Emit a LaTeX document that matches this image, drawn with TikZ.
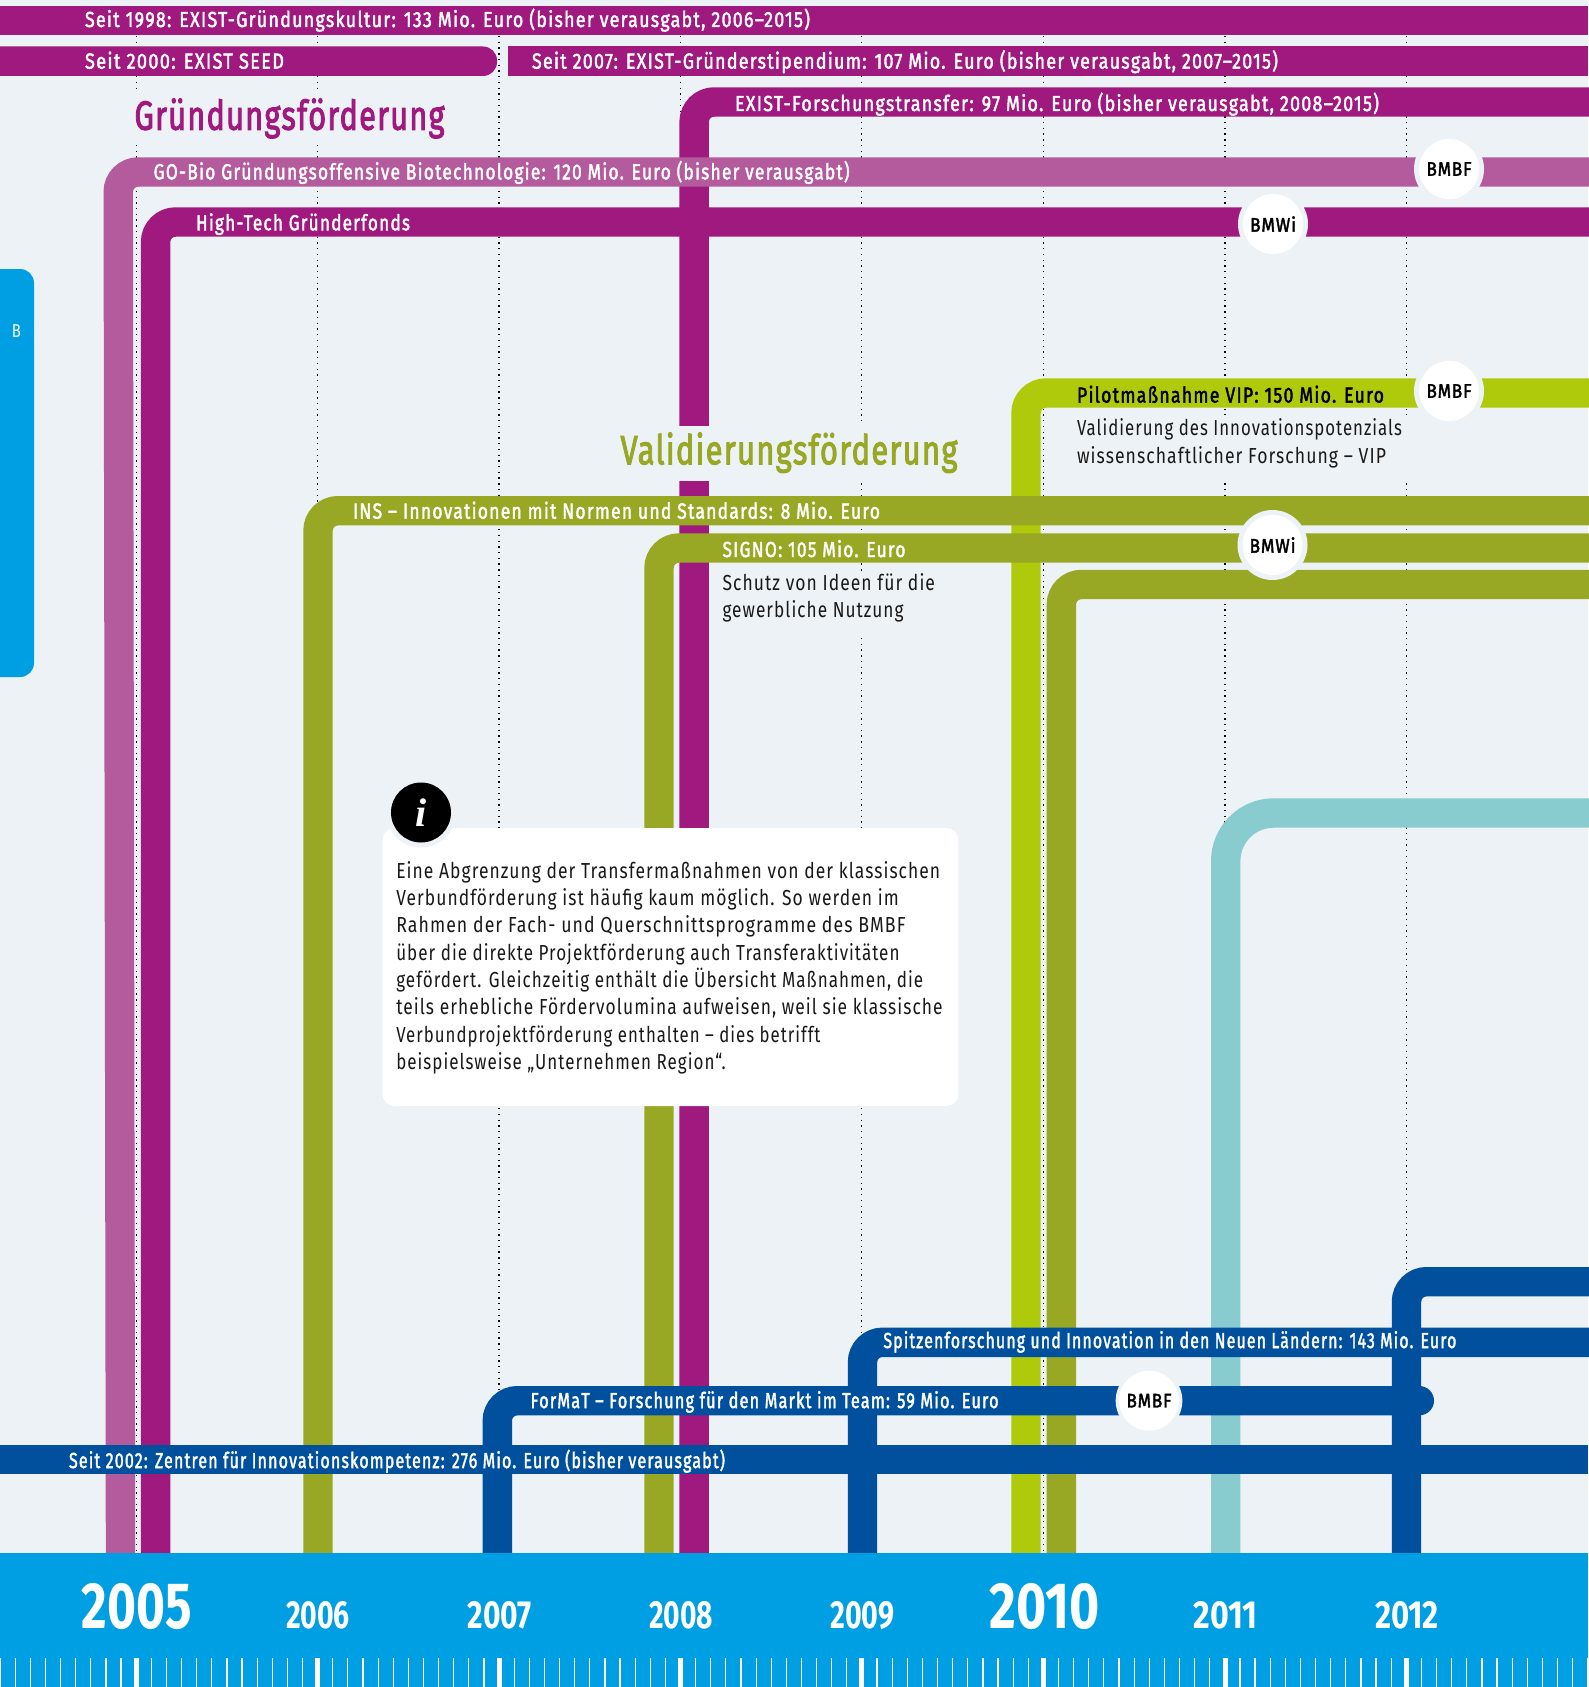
\documentclass[tikz,border=0pt]{standalone}
\usepackage{fontspec}
\usepackage{graphicx}
\setmainfont{Fira Sans}
\newfontfamily\ifont{Liberation Serif}
\newdimen\pxu \pxu=0.75pt
\newcommand\fitw[2]{\resizebox{#1\pxu}{\height}{#2}}
\newcommand\badge[2]{\raisebox{-0.75pt}{\fitw{#1}{#2}}}
\newcommand\ftx[1]{\fontsize{#1pt}{#1pt}\selectfont}
\definecolor{bgc}{HTML}{EDF2F6}
\definecolor{mag}{HTML}{A0197E}
\definecolor{magl}{HTML}{B35B9C}
\definecolor{oli}{HTML}{98A825}
\definecolor{lim}{HTML}{AFCA0B}
\definecolor{tea}{HTML}{88CCD0}
\definecolor{nav}{HTML}{00509E}
\definecolor{blu}{HTML}{009FE3}
\tikzset{
  bar/.style={line width=22.05pt,rounded corners=15pt},
  griddots/.style={black,line width=0.95pt,dash pattern=on 1pt off 3.3pt},
  lab/.style={anchor=base west,inner sep=0pt,outer sep=0pt,text=white,font=\ftx{16.3}\addfontfeature{LetterSpace=7,FakeBold=2.2}},
  body/.style={anchor=base west,inner sep=0pt,outer sep=0pt,text=black!90,font=\ftx{16.3}\addfontfeature{LetterSpace=6}},
  head/.style={anchor=base west,inner sep=0pt,outer sep=0pt,font=\ftx{30.5}\addfontfeature{LetterSpace=4,FakeBold=2.8}},
  gapbox/.style={fill=bgc,draw=none},
  halo/.style={circle,fill=bgc,draw=none,minimum size=52.5pt,inner sep=0pt},
  mini/.style={circle,fill=white,draw=none,minimum size=45pt,inner sep=0pt,text=black,font=\ftx{14.7}\addfontfeature{LetterSpace=5,FakeBold=2.2}},
  yearsm/.style={anchor=base,inner sep=0pt,text=white,font=\ftx{29.4}\bfseries},
  yearbg/.style={anchor=base,inner sep=0pt,text=white,font=\ftx{49}\bfseries},
}
\begin{document}
\begin{tikzpicture}[x=0.75pt,y=-0.75pt]
\useasboundingbox (0,0) rectangle (1588,1687);
\fill[bgc] (0,0) rectangle (1588,1687);
% year grid
\foreach \gx in {136.2,317.6,499,680.4,861.8,1043.6,1225,1406.5}
  \draw[griddots] (\gx,36) -- (\gx,1553);
% text backings that interrupt the grid
\fill[gapbox] (130,92) rectangle (450,145);
\fill[gapbox] (1070,415) rectangle (1415,482);
\fill[gapbox] (715,575) rectangle (945,638);
% blue tab
\fill[blu,rounded corners=10.5pt] (-30,269) rectangle (34,677);
\node[anchor=base,inner sep=0pt,text=white,font=\ftx{14}] (tabb) at (16.5,337) {\fitw{9}{B}};
% magenta family
\fill[mag] (0,6.5) rectangle (1588,35.5);
\fill[mag,rounded corners=10.5pt] (-30,46.5) rectangle (497,76);
\fill[mag] (507.6,46.5) rectangle (1588,76);
\draw[bar,mag] (694.1,1553) -- (694.1,102) -- (1600,102);
\fill[gapbox] (615,426) rectangle (960,481);
\draw[bar,mag] (155.6,1553) -- (155.6,222) -- (1600,222);
\draw[bar,magl] (120.5,1553) -- (118.2,172) -- (1600,172);
% lime and olive family
\draw[bar,lim] (1026,1553) -- (1026,393) -- (1600,393);
\draw[bar,oli] (318,1553) -- (318,510.7) -- (1600,510.7);
\draw[bar,oli] (659,1553) -- (659,548) -- (1600,548);
\draw[bar,oli] (1061.4,1553) -- (1061.4,584.5) -- (1600,584.5);
% teal
\draw[bar,tea,rounded corners=36pt] (1225.7,1553) -- (1225.7,813) -- (1600,813);
% info box
\fill[white,rounded corners=9pt] (382.5,828) rectangle (958.4,1106);
% navy family
\draw[bar,nav] (1406.5,1553) -- (1406.5,1281.7) -- (1600,1281.7);
\draw[bar,nav] (862.5,1553) -- (862.5,1342.3) -- (1600,1342.3);
\draw[bar,nav] (497.3,1553) -- (497.3,1400.7) -- (1410,1400.7);
\fill[nav,rounded corners=11pt] (1380,1386) rectangle (1434,1415.3);
\fill[nav] (0,1445) rectangle (1588,1474.3);
% time band
\fill[blu] (0,1553) rectangle (1588,1687);
\foreach \k in {-9,...,96}{
  \pgfmathsetmacro\tx{136.2+\k*15.12}
  \fill[white] (\tx-0.6,1658) rectangle (\tx+0.6,1687);
}
\foreach \gx in {136.2,317.6,499,680.4,861.8,1043.6,1225,1406.5}
  \fill[white] (\gx-2.5,1658) rectangle (\gx+2.5,1687);
% years
\node[yearbg] (y05) at (137,1628) {\fitw{110}{2005}};
\node[yearsm] (y06) at (318,1628) {\fitw{64}{2006}};
\node[yearsm] (y07) at (499.5,1628) {\fitw{64}{2007}};
\node[yearsm] (y08) at (681,1628) {\fitw{64}{2008}};
\node[yearsm] (y09) at (862.3,1628) {\fitw{64}{2009}};
\node[yearbg] (y10) at (1044.4,1628) {\fitw{110}{2010}};
\node[yearsm] (y11) at (1225.5,1628) {\fitw{64}{2011}};
\node[yearsm] (y12) at (1407,1628) {\fitw{64}{2012}};
% headings
\node[head,text=mag] (hg) at (134.5,129.7) {\fitw{310}{Gründungsförderung}};
\node[head,text=oli] (hv) at (620.5,464.2) {\fitw{337}{Validierungsförderung}};
% bar labels
\node[lab] (t1) at (85,27) {\fitw{725}{Seit 1998: EXIST-Gründungskultur: 133 Mio. Euro (bisher verausgabt, 2006–2015)}};
\node[lab] (t2) at (85,68.6) {\fitw{199}{Seit 2000: EXIST SEED}};
\node[lab] (t3) at (532,68.6) {\fitw{746}{Seit 2007: EXIST-Gründerstipendium: 107 Mio. Euro (bisher verausgabt, 2007–2015)}};
\node[lab] (t4) at (735,111) {\fitw{644}{EXIST-Forschungstransfer: 97 Mio. Euro (bisher verausgabt, 2008–2015)}};
\node[lab] (t5) at (153.6,179.3) {\fitw{696}{GO-Bio Gründungsoffensive Biotechnologie: 120 Mio. Euro (bisher verausgabt)}};
\node[lab] (t6) at (196,230.3) {\fitw{214}{High-Tech Gründerfonds}};
\node[lab,text=black] (t7) at (1077,402.6) {\fitw{307}{Pilotmaßnahme VIP: 150 Mio. Euro}};
\node[lab] (t8) at (353,518.6) {\fitw{527}{INS – Innovationen mit Normen und Standards: 8 Mio. Euro}};
\node[lab] (t9) at (722.5,557) {\fitw{183}{SIGNO: 105 Mio. Euro}};
\node[lab] (t10) at (883.4,1348) {\fitw{573}{Spitzenforschung und Innovation in den Neuen Ländern: 143 Mio. Euro}};
\node[lab] (t11) at (530.6,1408) {\fitw{468}{ForMaT – Forschung für den Markt im Team: 59 Mio. Euro}};
\node[lab] (t12) at (69,1468) {\fitw{656}{Seit 2002: Zentren für Innovationskompetenz: 276 Mio. Euro (bisher verausgabt)}};
% descriptive text
\node[body] (d1) at (1077,435) {\fitw{325}{Validierung des Innovationspotenzials}};
\node[body] (d2) at (1077,463.4) {\fitw{309}{wissenschaftlicher Forschung – VIP}};
\node[body] (d3) at (722.5,590) {\fitw{212.5}{Schutz von Ideen für die}};
\node[body] (d4) at (722.5,617) {\fitw{181}{gewerbliche Nutzung}};
% agency badges
\node[halo] (h1) at (1449,169) {};
\node[mini] (b1) at (1449,169) {\badge{45}{BMBF}};
\node[halo] (h2) at (1273,224) {};
\node[mini] (b2) at (1273,224) {\badge{46}{BMWi}};
\node[halo] (h3) at (1449,391) {};
\node[mini] (b3) at (1449,391) {\badge{45}{BMBF}};
\node[halo] (h4) at (1272.5,545) {};
\node[mini] (b4) at (1272.5,545) {\badge{46}{BMWi}};
\node[halo,minimum size=50pt] (h5) at (1149,1400.7) {};
\node[mini] (b5) at (1149,1400.7) {\badge{45}{BMBF}};
% info
\node[halo] (h6) at (421,812.5) {};
\node[mini,fill=black,text=white,font=\ifont\ftx{30}\bfseries\itshape] (bi) at (421,812.5) {i};
\node[body] (p1) at (396.3,878) {\fitw{543.9}{Eine Abgrenzung der Transfermaßnahmen von der klassischen}};
\node[body] (p2) at (396.3,905.4) {\fitw{502.4}{Verbundförderung ist häufig kaum möglich. So werden im}};
\node[body] (p3) at (396.3,932.7) {\fitw{509.2}{Rahmen der Fach- und Querschnittsprogramme des BMBF}};
\node[body] (p4) at (396.3,960) {\fitw{503.2}{über die direkte Projektförderung auch Transferaktivitäten}};
\node[body] (p5) at (396.3,987.4) {\fitw{526.9}{gefördert. Gleichzeitig enthält die Übersicht Maßnahmen, die}};
\node[body] (p6) at (396.3,1014.7) {\fitw{546.3}{teils erhebliche Fördervolumina aufweisen, weil sie klassische}};
\node[body] (p7) at (396.3,1042) {\fitw{424.2}{Verbundprojektförderung enthalten – dies betrifft}};
\node[body] (p8) at (396.3,1069.4) {\fitw{329.3}{beispielsweise „Unternehmen Region“.}};
\end{tikzpicture}
\end{document}
